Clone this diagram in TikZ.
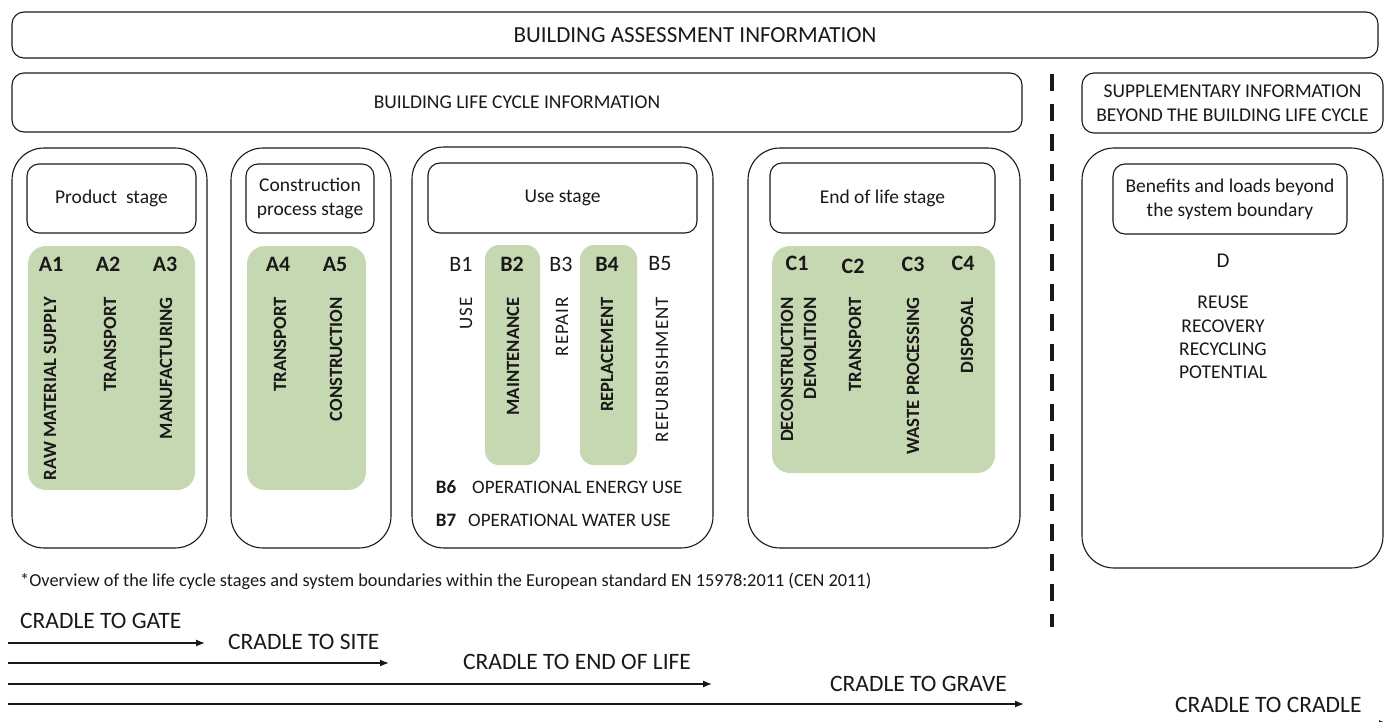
\documentclass[tikz,border=0pt]{standalone}
\usepackage{fontspec}
\setmainfont{Carlito}
\usetikzlibrary{arrows.meta}
\definecolor{greenfill}{RGB}{197,216,178}
\definecolor{ink}{RGB}{25,25,25}
\begin{document}
\begin{tikzpicture}[x=1pt,y=-1pt,
  box/.style={draw=ink, line width=1.1pt, rounded corners=12pt, inner sep=0pt, align=center, text=ink},
  stagebox/.style={draw=ink, line width=1.1pt, rounded corners=32pt, inner sep=0pt},
  greenbox/.style={fill=greenfill, rounded corners=18pt, inner sep=0pt},
  hdr/.style={font=\fontsize{19.5}{24}\selectfont},
  code/.style={font=\fontsize{22}{26}\selectfont\bfseries, text=ink, inner sep=0pt},
  codeplain/.style={font=\fontsize{22}{26}\selectfont, text=ink, inner sep=0pt},
  vtext/.style={font=\fontsize{18.7}{22}\selectfont\bfseries, rotate=90, anchor=east, inner sep=0pt, text=ink},
  vplain/.style={font=\fontsize{19}{22}\selectfont\addfontfeatures{LetterSpace=5}, rotate=90, anchor=east, inner sep=0pt, text=ink},
  ltext/.style={font=\fontsize{19}{22}\selectfont, inner sep=0pt, text=ink},
  arr/.style={draw=ink, line width=1.3pt, -{Latex[length=9pt,width=7pt]}},
  cradle/.style={font=\fontsize{23.5}{27}\selectfont, inner sep=0pt, text=ink, anchor=west}
]
\useasboundingbox (0,0) rectangle (1389,722);
\fill[white] (0,0) rectangle (1389,722);

% top boxes
\node[box, minimum width=1366pt, minimum height=46pt, font=\fontsize{23}{27}\selectfont] (bai) at (695,35) {BUILDING ASSESSMENT INFORMATION};
\node[box, minimum width=1010pt, minimum height=59pt, font=\fontsize{19.5}{23}\selectfont] (blc) at (517,102.5) {BUILDING LIFE CYCLE INFORMATION};
\node[box, minimum width=301pt, minimum height=60pt, font=\fontsize{19.5}{24}\selectfont] (sup) at (1232.5,103) {SUPPLEMENTARY INFORMATION\\BEYOND THE BUILDING LIFE CYCLE};

% dashed separator
\coordinate (dtop) at (1052,74);
\coordinate (dbot) at (1052,627);
\draw[line width=4pt, ink, dash pattern=on 17pt off 13pt] (dtop) -- (dbot);

% Product stage
\node[stagebox, minimum width=195pt, minimum height=400pt] (prod) at (109.5,348) {};
\node[box, hdr, minimum width=169pt, minimum height=69pt] (prodh) at (111.5,198.5) {Product~ stage};
\node[greenbox, minimum width=167pt, minimum height=244pt] (prodg) at (111.5,368) {};
\node[code] (a1) at (51,264) {A1};
\node[code] (a2) at (108,264) {A2};
\node[code] (a3) at (165,264) {A3};
\node[vtext] (a1t) at (50,297) {RAW MATERIAL SUPPLY};
\node[vtext] (a2t) at (110,297) {TRANSPORT};
\node[vtext] (a3t) at (166,297) {MANUFACTURING};

% Construction process stage
\node[stagebox, minimum width=160pt, minimum height=400pt] (cons) at (311,348) {};
\node[box, hdr, minimum width=128pt, minimum height=69pt] (consh) at (310,198.5) {Construction\\process stage};
\node[greenbox, minimum width=119pt, minimum height=244pt] (consg) at (306.5,368) {};
\node[code] (a4) at (278,264) {A4};
\node[code] (a5) at (335,264) {A5};
\node[vtext] (a4t) at (280,297) {TRANSPORT};
\node[vtext] (a5t) at (336,297) {CONSTRUCTION};

% Use stage
\node[stagebox, minimum width=301pt, minimum height=401pt] (use) at (562.5,347.5) {};
\node[box, hdr, minimum width=269pt, minimum height=70pt] (useh) at (562.5,198) {Use stage};
\node[greenbox, rounded corners=14pt, minimum width=55pt, minimum height=220pt] (b2g) at (512.5,355) {};
\node[greenbox, rounded corners=14pt, minimum width=57pt, minimum height=220pt] (b4g) at (608.5,355) {};
\node[codeplain] (b1) at (461,264) {B1};
\node[code] (b2) at (512,264) {B2};
\node[codeplain] (b3) at (561,264) {B3};
\node[code] (b4) at (607,264) {B4};
\node[codeplain] (b5) at (660,264) {B5};
\node[vplain] (b1t) at (466,297) {USE};
\node[vtext] (b2t) at (513,297) {MAINTENANCE};
\node[vplain] (b3t) at (562,297) {REPAIR};
\node[vtext] (b4t) at (607,297) {REPLACEMENT};
\node[vplain] (b5t) at (662,297) {REFURBISHMENT};
\node[ltext, font=\fontsize{19}{22}\selectfont\bfseries] (b6) at (446,487) {B6};
\node[ltext, anchor=west] (b6t) at (472,487) {OPERATIONAL ENERGY USE};
\node[ltext, font=\fontsize{19}{22}\selectfont\bfseries] (b7) at (446,520) {B7};
\node[ltext, anchor=west] (b7t) at (468,520) {OPERATIONAL WATER USE};

% End of life stage
\node[stagebox, minimum width=272pt, minimum height=400pt] (eol) at (884,348) {};
\node[box, hdr, minimum width=225pt, minimum height=70pt] (eolh) at (882.5,198) {End of life stage};
\node[greenbox, minimum width=223pt, minimum height=227pt] (eolg) at (883.5,359.5) {};
\node[code] (c1) at (797,263) {C1};
\node[code] (c2) at (853,266) {C2};
\node[code] (c3) at (913,264) {C3};
\node[code] (c4) at (963,263) {C4};
\node[vtext] (c1t) at (787,297) {DECONSTRUCTION};
\node[vtext] (c1u) at (810,297) {DEMOLITION};
\node[vtext] (c2t) at (855,297) {TRANSPORT};
\node[vtext] (c3t) at (913,297) {WASTE PROCESSING};
\node[vtext] (c4t) at (967,297) {DISPOSAL};

% Supplementary D
\node[stagebox, minimum width=301pt, minimum height=420pt] (dbox) at (1232.5,358) {};
\node[box, hdr, minimum width=234pt, minimum height=70pt] (dh) at (1230,199) {Benefits and loads beyond\\the system boundary};
\node[ltext, font=\fontsize{21}{24}\selectfont] (d) at (1223,261) {D};
\node[ltext, align=center, font=\fontsize{19.5}{23.3}\selectfont, anchor=north] (dt) at (1223,296) {REUSE\\RECOVERY\\RECYCLING\\POTENTIAL};

% footnote
\node[ltext, anchor=west, font=\fontsize{18.3}{21}\selectfont] (note) at (20,581) {*Overview of the life cycle stages and system boundaries within the European standard EN 15978:2011 (CEN 2011)};

% cradle arrows
\coordinate (s1) at (8,643);  \coordinate (e1) at (205,643);
\coordinate (s2) at (8,663);  \coordinate (e2) at (389,663);
\coordinate (s3) at (8,684);  \coordinate (e3) at (712,684);
\coordinate (s4) at (8,704);  \coordinate (e4) at (1024,704);
\coordinate (s5) at (8,723.5);  \coordinate (e5) at (1388,723.5);
\draw[arr] (s1) -- (e1);
\draw[arr] (s2) -- (e2);
\draw[arr] (s3) -- (e3);
\draw[arr] (s4) -- (e4);
\draw[arr] (s5) -- (e5);
\node[cradle] (g1) at (20,621) {CRADLE TO GATE};
\node[cradle] (g2) at (228,642) {CRADLE TO SITE};
\node[cradle] (g3) at (463,662) {CRADLE TO END OF LIFE};
\node[cradle] (g4) at (830,684) {CRADLE TO GRAVE};
\node[cradle] (g5) at (1175,705) {CRADLE TO CRADLE};
\end{tikzpicture}
\end{document}
